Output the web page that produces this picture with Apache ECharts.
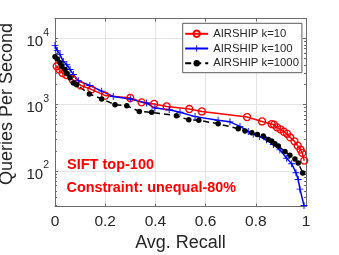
<!DOCTYPE html>
<html>
<head>
<meta charset="utf-8">
<script src="https://cdn.jsdelivr.net/npm/echarts@6/dist/echarts.min.js"></script>
<style>html,body{margin:0;padding:0;background:#fff}#c{width:339px;height:255px}</style>
</head>
<body>
<div id="c"></div>
<script>
const seriesNames = ['AIRSHIP k=10', 'AIRSHIP k=100', 'AIRSHIP k=1000'];
const recallK10 = [0.007,0.017,0.03,0.045,0.07,0.103,0.145,0.2,0.3,0.345,0.395,0.445,0.535,0.585,0.765,0.825,0.863,0.873,0.884,0.898,0.912,0.925,0.937,0.954,0.967,0.978,0.985,0.993];
const qpsK10    = [3800,3400,3000,2800,2400,1950,1700,1370,1260,1085,1025,940,860,790,650,558,510,500,455,425,390,363,320,280,240,210,187,143];
const recallK100 = [0,0.009,0.02,0.033,0.047,0.06,0.073,0.093,0.139,0.186,0.232,0.3,0.365,0.398,0.455,0.498,0.558,0.65,0.697,0.737,0.77,0.79,0.814,0.843,0.87,0.896,0.923,0.943,0.96,0.969,0.976,0.992];
const qpsK100    = [7800,6600,5700,4500,4000,3400,2850,2300,1950,1600,1330,1220,1060,890,840,770,660,580,550,470,395,360,330,295,250,208,155,128,94,74,53,30];
const recallK1000 = [0,0.009,0.02,0.027,0.04,0.047,0.06,0.073,0.086,0.137,0.186,0.239,0.286,0.336,0.385,0.484,0.533,0.573,0.65,0.73,0.757,0.784,0.806,0.83,0.85,0.863,0.876,0.89,0.916,0.936,0.956,0.969,0.987];
const qpsK1000    = [5300,4900,4300,3800,3400,2950,2550,2130,2000,1450,1220,1000,965,790,765,680,590,580,515,433,400,377,355,336,298,282,256,237,197,173,151,132,93];
const xTicks = [0, 0.2, 0.4, 0.6, 0.8, 1];
const yMajorTicks = [100, 1000, 10000];
const yMinorTicks = [30,40,50,60,70,80,90,200,300,400,500,600,700,800,900,2000,3000,4000,5000,6000,7000,8000,9000];
const annotations = ['SIFT top-100', 'Constraint: unequal-80%'];

const FONT = 'Liberation Sans, Arial, Helvetica, sans-serif';
const TXT = '#262626';
const AX = '#6b6b6b';
const zip = (a, b) => a.map((v, i) => [v, b[i]]);
const plusPath = 'path://M-0.13,-1H0.13V-0.13H1V0.13H0.13V1H-0.13V0.13H-1V-0.13H-0.13Z';

const yMin = 29, yMax = 20000;
const baseY = {
  type: 'log', logBase: 10, min: yMin, max: yMax,
  axisLabel: {show: false}, splitLine: {show: false}, axisLine: {show: false}
};

const chart = echarts.init(document.getElementById('c'), null, {renderer: 'canvas'});
chart.setOption({
  animation: false,
  backgroundColor: '#fff',
  grid: {left: 55, right: 33, top: 18.5, bottom: 48.5, containLabel: false, outerBoundsMode: 'none'},
  legend: {
    left: 182.7, top: 23.3, orient: 'vertical',
    data: seriesNames,
    itemWidth: 23, itemHeight: 8, itemGap: 1.7,
    padding: [4, 3, 3, 1.5],
    borderColor: '#5a5a5a', borderWidth: 1, backgroundColor: '#fff',
    selectedMode: false,
    textStyle: {fontFamily: FONT, fontSize: 11.3, color: TXT, lineHeight: 13}
  },
  xAxis: [{
    type: 'value', min: 0, max: 1, interval: 0.2, position: 'bottom',
    name: 'Avg. Recall', nameLocation: 'middle', nameGap: 25,
    nameTextStyle: {fontFamily: FONT, fontSize: 18, color: TXT},
    axisLine: {show: true, lineStyle: {color: AX, width: 1}},
    axisTick: {show: true, inside: true, length: 3, lineStyle: {color: AX}},
    axisLabel: {fontFamily: FONT, fontSize: 15.5, color: TXT, margin: 7,
      formatter: v => String(+v.toFixed(1))},
    splitLine: {show: true, lineStyle: {color: '#e4e4e4', width: 1}}
  }, {
    type: 'value', min: 0, max: 1, interval: 0.2, position: 'top',
    axisLine: {show: true, lineStyle: {color: AX, width: 1}},
    axisTick: {show: true, inside: true, length: 3, lineStyle: {color: AX}},
    axisLabel: {show: false}, splitLine: {show: false}
  }],
  yAxis: [{
    type: 'log', logBase: 10, min: yMin, max: yMax, position: 'left',
    name: 'Queries Per Second', nameLocation: 'middle', nameGap: 28,
    nameTextStyle: {fontFamily: FONT, fontSize: 18, color: TXT, padding: [0, 0, 0, 17]},
    axisLine: {show: true, lineStyle: {color: AX, width: 1}},
    axisTick: {show: true, inside: true, length: 3, lineStyle: {color: AX}, customValues: yMajorTicks},
    axisLabel: {
      customValues: yMajorTicks,
      margin: 6,
      formatter: v => '{b|10}{s|' + Math.round(Math.log10(v)) + '}',
      rich: {
        b: {fontFamily: FONT, fontSize: 15, color: TXT, verticalAlign: 'bottom', lineHeight: 22},
        s: {fontFamily: FONT, fontSize: 10.5, color: TXT, verticalAlign: 'top', lineHeight: 22}
      }
    },
    splitLine: {show: true, lineStyle: {color: '#e4e4e4', width: 1}}
  },
  Object.assign({}, baseY, {position: 'left',
    axisTick: {show: true, inside: true, length: 2, lineStyle: {color: AX}, customValues: yMinorTicks}}),
  Object.assign({}, baseY, {position: 'right', axisLine: {show: true, lineStyle: {color: AX, width: 1}},
    axisTick: {show: true, inside: true, length: 3, lineStyle: {color: AX}, customValues: yMajorTicks}}),
  Object.assign({}, baseY, {position: 'right',
    axisTick: {show: true, inside: true, length: 2, lineStyle: {color: AX}, customValues: yMinorTicks}})
  ],
  graphic: [
    {type: 'text', left: 67, top: 157, z: 10,
      style: {text: annotations[0], font: 'bold 14.5px ' + FONT, fill: '#ff0000'}},
    {type: 'text', left: 66.5, top: 181, z: 10,
      style: {text: annotations[1], font: 'bold 14.4px ' + FONT, fill: '#ff0000'}}
  ],
  series: [{
    name: seriesNames[0], type: 'line', data: zip(recallK10, qpsK10),
    symbol: 'circle', symbolSize: 7, showSymbol: true, clip: false,
    lineStyle: {color: '#ff0000', width: 1.5},
    itemStyle: {color: 'rgba(255,255,255,0)', borderColor: '#ff0000', borderWidth: 1.3}
  }, {
    name: seriesNames[1], type: 'line', data: zip(recallK100, qpsK100),
    symbol: plusPath, symbolSize: 7, showSymbol: true, clip: false,
    lineStyle: {color: '#0000ff', width: 1.5},
    itemStyle: {color: '#0000ff'}
  }, {
    name: seriesNames[2], type: 'line', data: zip(recallK1000, qpsK1000),
    symbol: 'circle', symbolSize: 5.5, showSymbol: true, clip: false,
    lineStyle: {color: '#000000', width: 1.5, type: [6, 4]},
    itemStyle: {color: '#000000'}
  }]
});
</script>
</body>
</html>
